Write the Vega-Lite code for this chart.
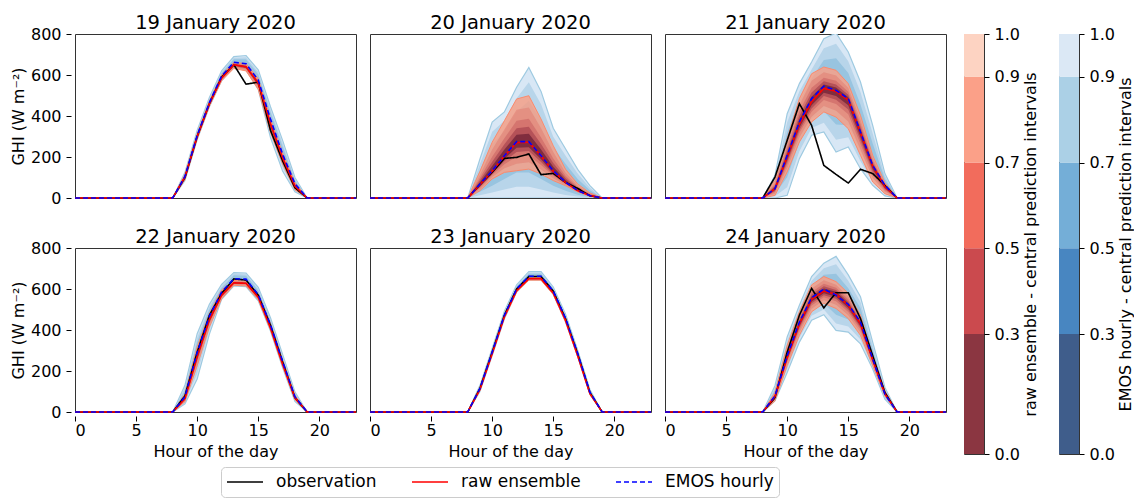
{
"$schema": "https://vega.github.io/schema/vega-lite/v6.json",
"background": "white",
"padding": {"left": 10, "top": 2, "right": 0, "bottom": 0},
"config": {
 "font": "DejaVu Sans",
 "view": {"stroke": "#333333", "strokeWidth": 1},
 "axis": {"labelFontSize": 16, "labelColor": "#000000", "titleFontSize": 16, "titleFontWeight": "normal", "titleColor": "#000000", "tickColor": "#000000", "tickSize": 5, "grid": false, "domain": false, "labelFont": "DejaVu Sans", "titleFont": "DejaVu Sans"},
 "axisX": {"labelPadding": 1, "titlePadding": 5},
 "axisY": {"labelPadding": 5},
 "header": {"labelFontSize": 19.5, "labelColor": "#000000", "labelFont": "DejaVu Sans", "labelPadding": 1}
},
"hconcat": [
{
 "data": {"values": [
{"date":"19 January 2020","h":0,"o":0,"r":0,"e":0},{"date":"19 January 2020","h":1,"o":0,"r":0,"e":0},{"date":"19 January 2020","h":2,"o":0,"r":0,"e":0},{"date":"19 January 2020","h":3,"o":0,"r":0,"e":0},{"date":"19 January 2020","h":4,"o":0,"r":0,"e":0},{"date":"19 January 2020","h":5,"o":0,"r":0,"e":0},{"date":"19 January 2020","h":6,"o":0,"r":0,"e":0},{"date":"19 January 2020","h":7,"o":0,"r":0,"e":0},
{"date":"19 January 2020","h":8,"o":0,"r":0,"e":0,"e1l":0,"e1h":0,"e2l":0,"e2h":0,"e3l":0,"e3h":0,"r1l":0,"r1h":0,"r2l":0,"r2h":0,"r3l":0,"r3h":0,"r4l":0,"r4h":0,"r5l":0,"r5h":0},
{"date":"19 January 2020","h":9,"o":100,"r":103,"e":105,"e1l":85,"e1h":125,"e2l":89,"e2h":121,"e3l":94,"e3h":116,"r1l":90,"r1h":115,"r2l":93,"r2h":112,"r3l":97,"r3h":109,"r4l":99,"r4h":107,"r5l":101,"r5h":105},
{"date":"19 January 2020","h":10,"o":300,"r":300,"e":305,"e1l":285,"e1h":330,"e2l":289,"e2h":325,"e3l":294,"e3h":319,"r1l":288,"r1h":312,"r2l":291,"r2h":309,"r3l":294,"r3h":306,"r4l":296,"r4h":304,"r5l":298,"r5h":302},
{"date":"19 January 2020","h":11,"o":460,"r":460,"e":465,"e1l":445,"e1h":490,"e2l":449,"e2h":485,"e3l":454,"e3h":479,"r1l":448,"r1h":472,"r2l":451,"r2h":469,"r3l":454,"r3h":466,"r4l":456,"r4h":464,"r5l":458,"r5h":462},
{"date":"19 January 2020","h":12,"o":590,"r":585,"e":595,"e1l":572,"e1h":620,"e2l":577,"e2h":615,"e3l":582,"e3h":609,"r1l":572,"r1h":600,"r2l":575,"r2h":596,"r3l":578,"r3h":592,"r4l":581,"r4h":590,"r5l":583,"r5h":588},
{"date":"19 January 2020","h":13,"o":650,"r":650,"e":662,"e1l":640,"e1h":690,"e2l":644,"e2h":684,"e3l":650,"e3h":677,"r1l":632,"r1h":662,"r2l":636,"r2h":659,"r3l":641,"r3h":656,"r4l":644,"r4h":654,"r5l":647,"r5h":652},
{"date":"19 January 2020","h":14,"o":555,"r":640,"e":655,"e1l":625,"e1h":695,"e2l":631,"e2h":687,"e3l":639,"e3h":677,"r1l":620,"r1h":655,"r2l":625,"r2h":651,"r3l":630,"r3h":647,"r4l":633,"r4h":645,"r5l":636,"r5h":643},
{"date":"19 January 2020","h":15,"o":565,"r":560,"e":575,"e1l":530,"e1h":625,"e2l":539,"e2h":615,"e3l":550,"e3h":603,"r1l":530,"r1h":582,"r2l":537,"r2h":576,"r3l":545,"r3h":571,"r4l":550,"r4h":567,"r5l":555,"r5h":564},
{"date":"19 January 2020","h":16,"o":330,"r":362,"e":385,"e1l":295,"e1h":445,"e2l":313,"e2h":433,"e3l":336,"e3h":418,"r1l":320,"r1h":385,"r2l":330,"r2h":379,"r3l":341,"r3h":373,"r4l":348,"r4h":370,"r5l":354,"r5h":366},
{"date":"19 January 2020","h":17,"o":180,"r":195,"e":212,"e1l":130,"e1h":280,"e2l":146,"e2h":266,"e3l":167,"e3h":249,"r1l":165,"r1h":218,"r2l":172,"r2h":212,"r3l":180,"r3h":206,"r4l":185,"r4h":203,"r5l":190,"r5h":199},
{"date":"19 January 2020","h":18,"o":50,"r":58,"e":70,"e1l":30,"e1h":100,"e2l":38,"e2h":94,"e3l":48,"e3h":87,"r1l":40,"r1h":75,"r2l":44,"r2h":71,"r3l":49,"r3h":66,"r4l":52,"r4h":64,"r5l":55,"r5h":61},
{"date":"19 January 2020","h":19,"o":0,"r":0,"e":0,"e1l":0,"e1h":0,"e2l":0,"e2h":0,"e3l":0,"e3h":0,"r1l":0,"r1h":0,"r2l":0,"r2h":0,"r3l":0,"r3h":0,"r4l":0,"r4h":0,"r5l":0,"r5h":0},
{"date":"19 January 2020","h":20,"o":0,"r":0,"e":0},{"date":"19 January 2020","h":21,"o":0,"r":0,"e":0},{"date":"19 January 2020","h":22,"o":0,"r":0,"e":0},{"date":"19 January 2020","h":23,"o":0,"r":0,"e":0},

{"date":"20 January 2020","h":0,"o":0,"r":0,"e":0},{"date":"20 January 2020","h":1,"o":0,"r":0,"e":0},{"date":"20 January 2020","h":2,"o":0,"r":0,"e":0},{"date":"20 January 2020","h":3,"o":0,"r":0,"e":0},{"date":"20 January 2020","h":4,"o":0,"r":0,"e":0},{"date":"20 January 2020","h":5,"o":0,"r":0,"e":0},{"date":"20 January 2020","h":6,"o":0,"r":0,"e":0},{"date":"20 January 2020","h":7,"o":0,"r":0,"e":0},
{"date":"20 January 2020","h":8,"o":0,"r":0,"e":0,"e1l":0,"e1h":0,"e2l":0,"e2h":0,"e3l":0,"e3h":0,"r1l":0,"r1h":0,"r2l":0,"r2h":0,"r3l":0,"r3h":0,"r4l":0,"r4h":0,"r5l":0,"r5h":0},
{"date":"20 January 2020","h":9,"o":65,"r":65,"e":68,"e1l":0,"e1h":190,"e2l":14,"e2h":166,"e3l":31,"e3h":135,"r1l":36,"r1h":130,"r2l":43,"r2h":114,"r3l":50,"r3h":98,"r4l":55,"r4h":86,"r5l":60,"r5h":77},
{"date":"20 January 2020","h":10,"o":125,"r":130,"e":133,"e1l":0,"e1h":370,"e2l":27,"e2h":323,"e3l":60,"e3h":263,"r1l":93,"r1h":272,"r2l":102,"r2h":237,"r3l":112,"r3h":201,"r4l":118,"r4h":177,"r5l":123,"r5h":156},
{"date":"20 January 2020","h":11,"o":193,"r":205,"e":206,"e1l":0,"e1h":420,"e2l":41,"e2h":377,"e3l":93,"e3h":324,"r1l":125,"r1h":377,"r2l":145,"r2h":334,"r3l":165,"r3h":291,"r4l":179,"r4h":262,"r5l":191,"r5h":236},
{"date":"20 January 2020","h":12,"o":198,"r":270,"e":275,"e1l":0,"e1h":540,"e2l":55,"e2h":487,"e3l":124,"e3h":421,"r1l":133,"r1h":483,"r2l":167,"r2h":430,"r3l":202,"r3h":377,"r4l":225,"r4h":340,"r5l":245,"r5h":308},
{"date":"20 January 2020","h":13,"o":215,"r":272,"e":275,"e1l":0,"e1h":637,"e2l":55,"e2h":565,"e3l":124,"e3h":474,"r1l":141,"r1h":499,"r2l":174,"r2h":442,"r3l":207,"r3h":386,"r4l":229,"r4h":347,"r5l":248,"r5h":313},
{"date":"20 January 2020","h":14,"o":114,"r":205,"e":206,"e1l":0,"e1h":520,"e2l":41,"e2h":457,"e3l":93,"e3h":379,"r1l":117,"r1h":385,"r2l":139,"r2h":340,"r3l":161,"r3h":295,"r4l":176,"r4h":264,"r5l":189,"r5h":237},
{"date":"20 January 2020","h":15,"o":120,"r":130,"e":133,"e1l":0,"e1h":340,"e2l":27,"e2h":299,"e3l":60,"e3h":247,"r1l":85,"r1h":255,"r2l":96,"r2h":224,"r3l":108,"r3h":193,"r4l":115,"r4h":171,"r5l":122,"r5h":153},
{"date":"20 January 2020","h":16,"o":76,"r":76,"e":77,"e1l":0,"e1h":240,"e2l":15,"e2h":207,"e3l":35,"e3h":167,"r1l":60,"r1h":141,"r2l":64,"r2h":125,"r3l":68,"r3h":109,"r4l":71,"r4h":97,"r5l":73,"r5h":88},
{"date":"20 January 2020","h":17,"o":47,"r":36,"e":36,"e1l":0,"e1h":140,"e2l":7,"e2h":119,"e3l":16,"e3h":93,"r1l":30,"r1h":68,"r2l":32,"r2h":60,"r3l":33,"r3h":52,"r4l":34,"r4h":47,"r5l":35,"r5h":42},
{"date":"20 January 2020","h":18,"o":11,"r":12,"e":12,"e1l":0,"e1h":60,"e2l":2,"e2h":50,"e3l":5,"e3h":38,"r1l":8,"r1h":25,"r2l":9,"r2h":22,"r3l":10,"r3h":19,"r4l":11,"r4h":16,"r5l":11,"r5h":14},
{"date":"20 January 2020","h":19,"o":0,"r":0,"e":0,"e1l":0,"e1h":0,"e2l":0,"e2h":0,"e3l":0,"e3h":0,"r1l":0,"r1h":0,"r2l":0,"r2h":0,"r3l":0,"r3h":0,"r4l":0,"r4h":0,"r5l":0,"r5h":0},
{"date":"20 January 2020","h":20,"o":0,"r":0,"e":0},{"date":"20 January 2020","h":21,"o":0,"r":0,"e":0},{"date":"20 January 2020","h":22,"o":0,"r":0,"e":0},{"date":"20 January 2020","h":23,"o":0,"r":0,"e":0},

{"date":"21 January 2020","h":0,"o":0,"r":0,"e":0},{"date":"21 January 2020","h":1,"o":0,"r":0,"e":0},{"date":"21 January 2020","h":2,"o":0,"r":0,"e":0},{"date":"21 January 2020","h":3,"o":0,"r":0,"e":0},{"date":"21 January 2020","h":4,"o":0,"r":0,"e":0},{"date":"21 January 2020","h":5,"o":0,"r":0,"e":0},{"date":"21 January 2020","h":6,"o":0,"r":0,"e":0},{"date":"21 January 2020","h":7,"o":0,"r":0,"e":0},
{"date":"21 January 2020","h":8,"o":0,"r":0,"e":0,"e1l":0,"e1h":0,"e2l":0,"e2h":0,"e3l":0,"e3h":0,"r1l":0,"r1h":0,"r2l":0,"r2h":0,"r3l":0,"r3h":0,"r4l":0,"r4h":0,"r5l":0,"r5h":0},
{"date":"21 January 2020","h":9,"o":102,"r":45,"e":45,"e1l":0,"e1h":110,"e2l":9,"e2h":97,"e3l":20,"e3h":81,"r1l":13,"r1h":86,"r2l":21,"r2h":76,"r3l":29,"r3h":66,"r4l":34,"r4h":59,"r5l":39,"r5h":52},
{"date":"21 January 2020","h":10,"o":281,"r":200,"e":208,"e1l":13,"e1h":411,"e2l":52,"e2h":370,"e3l":101,"e3h":320,"r1l":127,"r1h":289,"r2l":145,"r2h":267,"r3l":164,"r3h":245,"r4l":176,"r4h":229,"r5l":187,"r5h":216},
{"date":"21 January 2020","h":11,"o":460,"r":360,"e":371,"e1l":192,"e1h":558,"e2l":228,"e2h":521,"e3l":273,"e3h":474,"r1l":273,"r1h":485,"r2l":295,"r2h":454,"r3l":317,"r3h":423,"r4l":331,"r4h":401,"r5l":344,"r5h":383},
{"date":"21 January 2020","h":12,"o":354,"r":470,"e":485,"e1l":306,"e1h":663,"e2l":342,"e2h":627,"e3l":387,"e3h":583,"r1l":371,"r1h":606,"r2l":396,"r2h":572,"r3l":421,"r3h":538,"r4l":437,"r4h":515,"r5l":452,"r5h":494},
{"date":"21 January 2020","h":13,"o":159,"r":535,"e":546,"e1l":322,"e1h":777,"e2l":367,"e2h":731,"e3l":423,"e3h":673,"r1l":420,"r1h":639,"r2l":449,"r2h":613,"r3l":478,"r3h":587,"r4l":497,"r4h":569,"r5l":514,"r5h":554},
{"date":"21 January 2020","h":14,"o":115,"r":520,"e":525,"e1l":224,"e1h":805,"e2l":284,"e2h":753,"e3l":359,"e3h":682,"r1l":395,"r1h":623,"r2l":426,"r2h":597,"r3l":458,"r3h":572,"r4l":479,"r4h":554,"r5l":498,"r5h":539},
{"date":"21 January 2020","h":15,"o":73,"r":478,"e":485,"e1l":249,"e1h":712,"e2l":296,"e2h":667,"e3l":355,"e3h":610,"r1l":338,"r1h":558,"r2l":373,"r2h":538,"r3l":408,"r3h":518,"r4l":432,"r4h":504,"r5l":453,"r5h":492},
{"date":"21 January 2020","h":16,"o":140,"r":318,"e":322,"e1l":143,"e1h":566,"e2l":179,"e2h":517,"e3l":224,"e3h":456,"r1l":208,"r1h":403,"r2l":236,"r2h":382,"r3l":263,"r3h":361,"r4l":282,"r4h":346,"r5l":298,"r5h":333},
{"date":"21 January 2020","h":17,"o":119,"r":155,"e":159,"e1l":62,"e1h":354,"e2l":81,"e2h":315,"e3l":106,"e3h":266,"r1l":78,"r1h":208,"r2l":97,"r2h":195,"r3l":117,"r3h":182,"r4l":130,"r4h":172,"r5l":141,"r5h":165},
{"date":"21 January 2020","h":18,"o":62,"r":55,"e":62,"e1l":10,"e1h":119,"e2l":20,"e2h":108,"e3l":33,"e3h":93,"r1l":21,"r1h":75,"r2l":30,"r2h":70,"r3l":38,"r3h":65,"r4l":44,"r4h":62,"r5l":49,"r5h":59},
{"date":"21 January 2020","h":19,"o":0,"r":0,"e":0,"e1l":0,"e1h":0,"e2l":0,"e2h":0,"e3l":0,"e3h":0,"r1l":0,"r1h":0,"r2l":0,"r2h":0,"r3l":0,"r3h":0,"r4l":0,"r4h":0,"r5l":0,"r5h":0},
{"date":"21 January 2020","h":20,"o":0,"r":0,"e":0},{"date":"21 January 2020","h":21,"o":0,"r":0,"e":0},{"date":"21 January 2020","h":22,"o":0,"r":0,"e":0},{"date":"21 January 2020","h":23,"o":0,"r":0,"e":0},

{"date":"22 January 2020","h":0,"o":0,"r":0,"e":0},{"date":"22 January 2020","h":1,"o":0,"r":0,"e":0},{"date":"22 January 2020","h":2,"o":0,"r":0,"e":0},{"date":"22 January 2020","h":3,"o":0,"r":0,"e":0},{"date":"22 January 2020","h":4,"o":0,"r":0,"e":0},{"date":"22 January 2020","h":5,"o":0,"r":0,"e":0},{"date":"22 January 2020","h":6,"o":0,"r":0,"e":0},{"date":"22 January 2020","h":7,"o":0,"r":0,"e":0},
{"date":"22 January 2020","h":8,"o":0,"r":0,"e":0,"e1l":0,"e1h":0,"e2l":0,"e2h":0,"e3l":0,"e3h":0,"r1l":0,"r1h":0,"r2l":0,"r2h":0,"r3l":0,"r3h":0,"r4l":0,"r4h":0,"r5l":0,"r5h":0},
{"date":"22 January 2020","h":9,"o":79,"r":65,"e":75,"e1l":40,"e1h":130,"e2l":47,"e2h":119,"e3l":56,"e3h":105,"r1l":50,"r1h":88,"r2l":54,"r2h":82,"r3l":58,"r3h":77,"r4l":60,"r4h":73,"r5l":62,"r5h":69},
{"date":"22 January 2020","h":10,"o":292,"r":270,"e":290,"e1l":161,"e1h":382,"e2l":187,"e2h":364,"e3l":219,"e3h":341,"r1l":226,"r1h":318,"r2l":237,"r2h":306,"r3l":248,"r3h":294,"r4l":255,"r4h":286,"r5l":262,"r5h":279},
{"date":"22 January 2020","h":11,"o":472,"r":450,"e":468,"e1l":380,"e1h":525,"e2l":398,"e2h":514,"e3l":420,"e3h":499,"r1l":415,"r1h":480,"r2l":424,"r2h":473,"r3l":433,"r3h":465,"r4l":438,"r4h":460,"r5l":444,"r5h":455},
{"date":"22 January 2020","h":12,"o":579,"r":570,"e":585,"e1l":550,"e1h":622,"e2l":557,"e2h":615,"e3l":566,"e3h":605,"r1l":552,"r1h":595,"r2l":557,"r2h":589,"r3l":561,"r3h":583,"r4l":564,"r4h":578,"r5l":567,"r5h":575},
{"date":"22 January 2020","h":13,"o":649,"r":630,"e":650,"e1l":615,"e1h":680,"e2l":622,"e2h":674,"e3l":631,"e3h":667,"r1l":618,"r1h":642,"r2l":621,"r2h":639,"r3l":624,"r3h":636,"r4l":626,"r4h":634,"r5l":628,"r5h":632},
{"date":"22 January 2020","h":14,"o":644,"r":628,"e":648,"e1l":612,"e1h":678,"e2l":619,"e2h":672,"e3l":628,"e3h":665,"r1l":615,"r1h":638,"r2l":618,"r2h":636,"r3l":622,"r3h":633,"r4l":624,"r4h":631,"r5l":626,"r5h":630},
{"date":"22 January 2020","h":15,"o":570,"r":560,"e":572,"e1l":542,"e1h":608,"e2l":548,"e2h":601,"e3l":556,"e3h":592,"r1l":548,"r1h":575,"r2l":551,"r2h":571,"r3l":554,"r3h":568,"r4l":556,"r4h":565,"r5l":558,"r5h":563},
{"date":"22 January 2020","h":16,"o":423,"r":410,"e":425,"e1l":395,"e1h":460,"e2l":401,"e2h":453,"e3l":409,"e3h":444,"r1l":400,"r1h":432,"r2l":403,"r2h":427,"r3l":405,"r3h":421,"r4l":407,"r4h":417,"r5l":408,"r5h":414},
{"date":"22 January 2020","h":17,"o":243,"r":232,"e":245,"e1l":215,"e1h":280,"e2l":221,"e2h":273,"e3l":229,"e3h":264,"r1l":222,"r1h":252,"r2l":225,"r2h":247,"r3l":227,"r3h":242,"r4l":229,"r4h":239,"r5l":230,"r5h":236},
{"date":"22 January 2020","h":18,"o":70,"r":70,"e":75,"e1l":52,"e1h":98,"e2l":57,"e2h":93,"e3l":62,"e3h":88,"r1l":60,"r1h":82,"r2l":63,"r2h":79,"r3l":65,"r3h":76,"r4l":67,"r4h":74,"r5l":68,"r5h":72},
{"date":"22 January 2020","h":19,"o":0,"r":0,"e":0,"e1l":0,"e1h":0,"e2l":0,"e2h":0,"e3l":0,"e3h":0,"r1l":0,"r1h":0,"r2l":0,"r2h":0,"r3l":0,"r3h":0,"r4l":0,"r4h":0,"r5l":0,"r5h":0},
{"date":"22 January 2020","h":20,"o":0,"r":0,"e":0},{"date":"22 January 2020","h":21,"o":0,"r":0,"e":0},{"date":"22 January 2020","h":22,"o":0,"r":0,"e":0},{"date":"22 January 2020","h":23,"o":0,"r":0,"e":0},

{"date":"23 January 2020","h":0,"o":0,"r":0,"e":0},{"date":"23 January 2020","h":1,"o":0,"r":0,"e":0},{"date":"23 January 2020","h":2,"o":0,"r":0,"e":0},{"date":"23 January 2020","h":3,"o":0,"r":0,"e":0},{"date":"23 January 2020","h":4,"o":0,"r":0,"e":0},{"date":"23 January 2020","h":5,"o":0,"r":0,"e":0},{"date":"23 January 2020","h":6,"o":0,"r":0,"e":0},{"date":"23 January 2020","h":7,"o":0,"r":0,"e":0},
{"date":"23 January 2020","h":8,"o":0,"r":0,"e":0,"e1l":0,"e1h":0,"e2l":0,"e2h":0,"e3l":0,"e3h":0,"r1l":0,"r1h":0,"r2l":0,"r2h":0,"r3l":0,"r3h":0,"r4l":0,"r4h":0,"r5l":0,"r5h":0},
{"date":"23 January 2020","h":9,"o":115,"r":110,"e":115,"e1l":100,"e1h":130,"e2l":103,"e2h":127,"e3l":107,"e3h":123,"r1l":105,"r1h":120,"r2l":106,"r2h":118,"r3l":108,"r3h":115,"r4l":108,"r4h":113,"r5l":109,"r5h":112},
{"date":"23 January 2020","h":10,"o":292,"r":285,"e":292,"e1l":275,"e1h":310,"e2l":278,"e2h":306,"e3l":283,"e3h":302,"r1l":278,"r1h":295,"r2l":280,"r2h":293,"r3l":282,"r3h":290,"r4l":283,"r4h":288,"r5l":284,"r5h":287},
{"date":"23 January 2020","h":11,"o":472,"r":465,"e":472,"e1l":455,"e1h":492,"e2l":458,"e2h":488,"e3l":463,"e3h":483,"r1l":458,"r1h":475,"r2l":460,"r2h":473,"r3l":462,"r3h":470,"r4l":463,"r4h":468,"r5l":464,"r5h":467},
{"date":"23 January 2020","h":12,"o":600,"r":592,"e":600,"e1l":585,"e1h":620,"e2l":588,"e2h":616,"e3l":592,"e3h":611,"r1l":585,"r1h":602,"r2l":587,"r2h":600,"r3l":589,"r3h":597,"r4l":590,"r4h":595,"r5l":591,"r5h":594},
{"date":"23 January 2020","h":13,"o":661,"r":650,"e":662,"e1l":645,"e1h":685,"e2l":648,"e2h":680,"e3l":653,"e3h":675,"r1l":643,"r1h":657,"r2l":645,"r2h":655,"r3l":647,"r3h":654,"r4l":648,"r4h":652,"r5l":649,"r5h":651},
{"date":"23 January 2020","h":14,"o":661,"r":650,"e":662,"e1l":645,"e1h":685,"e2l":648,"e2h":680,"e3l":653,"e3h":675,"r1l":643,"r1h":657,"r2l":645,"r2h":655,"r3l":647,"r3h":654,"r4l":648,"r4h":652,"r5l":649,"r5h":651},
{"date":"23 January 2020","h":15,"o":590,"r":580,"e":590,"e1l":575,"e1h":610,"e2l":578,"e2h":606,"e3l":582,"e3h":601,"r1l":573,"r1h":588,"r2l":575,"r2h":586,"r3l":577,"r3h":584,"r4l":578,"r4h":583,"r5l":579,"r5h":581},
{"date":"23 January 2020","h":16,"o":456,"r":448,"e":458,"e1l":440,"e1h":478,"e2l":444,"e2h":474,"e3l":448,"e3h":469,"r1l":440,"r1h":455,"r2l":442,"r2h":453,"r3l":444,"r3h":452,"r4l":445,"r4h":450,"r5l":447,"r5h":449},
{"date":"23 January 2020","h":17,"o":284,"r":275,"e":285,"e1l":270,"e1h":302,"e2l":273,"e2h":299,"e3l":277,"e3h":294,"r1l":268,"r1h":282,"r2l":270,"r2h":280,"r3l":272,"r3h":279,"r4l":273,"r4h":277,"r5l":274,"r5h":276},
{"date":"23 January 2020","h":18,"o":95,"r":90,"e":97,"e1l":85,"e1h":110,"e2l":87,"e2h":107,"e3l":90,"e3h":104,"r1l":85,"r1h":96,"r2l":86,"r2h":95,"r3l":88,"r3h":93,"r4l":88,"r4h":92,"r5l":89,"r5h":91},
{"date":"23 January 2020","h":19,"o":0,"r":0,"e":0,"e1l":0,"e1h":0,"e2l":0,"e2h":0,"e3l":0,"e3h":0,"r1l":0,"r1h":0,"r2l":0,"r2h":0,"r3l":0,"r3h":0,"r4l":0,"r4h":0,"r5l":0,"r5h":0},
{"date":"23 January 2020","h":20,"o":0,"r":0,"e":0},{"date":"23 January 2020","h":21,"o":0,"r":0,"e":0},{"date":"23 January 2020","h":22,"o":0,"r":0,"e":0},{"date":"23 January 2020","h":23,"o":0,"r":0,"e":0},

{"date":"24 January 2020","h":0,"o":0,"r":0,"e":0},{"date":"24 January 2020","h":1,"o":0,"r":0,"e":0},{"date":"24 January 2020","h":2,"o":0,"r":0,"e":0},{"date":"24 January 2020","h":3,"o":0,"r":0,"e":0},{"date":"24 January 2020","h":4,"o":0,"r":0,"e":0},{"date":"24 January 2020","h":5,"o":0,"r":0,"e":0},{"date":"24 January 2020","h":6,"o":0,"r":0,"e":0},{"date":"24 January 2020","h":7,"o":0,"r":0,"e":0},
{"date":"24 January 2020","h":8,"o":0,"r":0,"e":0,"e1l":0,"e1h":0,"e2l":0,"e2h":0,"e3l":0,"e3h":0,"r1l":0,"r1h":0,"r2l":0,"r2h":0,"r3l":0,"r3h":0,"r4l":0,"r4h":0,"r5l":0,"r5h":0},
{"date":"24 January 2020","h":9,"o":70,"r":75,"e":79,"e1l":54,"e1h":128,"e2l":59,"e2h":118,"e3l":65,"e3h":106,"r1l":54,"r1h":95,"r2l":59,"r2h":90,"r3l":65,"r3h":85,"r4l":68,"r4h":82,"r5l":71,"r5h":79},
{"date":"24 January 2020","h":10,"o":292,"r":265,"e":275,"e1l":193,"e1h":366,"e2l":209,"e2h":348,"e3l":230,"e3h":325,"r1l":226,"r1h":325,"r2l":236,"r2h":310,"r3l":246,"r3h":295,"r4l":252,"r4h":285,"r5l":258,"r5h":276},
{"date":"24 January 2020","h":11,"o":472,"r":430,"e":439,"e1l":341,"e1h":521,"e2l":361,"e2h":505,"e3l":385,"e3h":484,"r1l":374,"r1h":489,"r2l":388,"r2h":474,"r3l":402,"r3h":460,"r4l":412,"r4h":449,"r5l":420,"r5h":441},
{"date":"24 January 2020","h":12,"o":603,"r":550,"e":557,"e1l":448,"e1h":661,"e2l":470,"e2h":640,"e3l":497,"e3h":614,"r1l":489,"r1h":620,"r2l":504,"r2h":603,"r3l":520,"r3h":585,"r4l":530,"r4h":573,"r5l":539,"r5h":563},
{"date":"24 January 2020","h":13,"o":508,"r":590,"e":600,"e1l":475,"e1h":726,"e2l":500,"e2h":701,"e3l":531,"e3h":669,"r1l":530,"r1h":661,"r2l":545,"r2h":643,"r3l":560,"r3h":626,"r4l":570,"r4h":613,"r5l":579,"r5h":603},
{"date":"24 January 2020","h":14,"o":582,"r":575,"e":570,"e1l":398,"e1h":759,"e2l":432,"e2h":721,"e3l":475,"e3h":674,"r1l":505,"r1h":636,"r2l":523,"r2h":621,"r3l":540,"r3h":606,"r4l":552,"r4h":595,"r5l":562,"r5h":586},
{"date":"24 January 2020","h":15,"o":582,"r":520,"e":525,"e1l":390,"e1h":669,"e2l":417,"e2h":640,"e3l":451,"e3h":604,"r1l":456,"r1h":579,"r2l":472,"r2h":564,"r3l":488,"r3h":550,"r4l":499,"r4h":539,"r5l":508,"r5h":531},
{"date":"24 January 2020","h":16,"o":456,"r":430,"e":439,"e1l":333,"e1h":562,"e2l":354,"e2h":537,"e3l":381,"e3h":507,"r1l":374,"r1h":472,"r2l":388,"r2h":462,"r3l":402,"r3h":451,"r4l":412,"r4h":444,"r5l":420,"r5h":438},
{"date":"24 January 2020","h":17,"o":275,"r":255,"e":259,"e1l":210,"e1h":341,"e2l":220,"e2h":325,"e3l":232,"e3h":304,"r1l":226,"r1h":275,"r2l":233,"r2h":270,"r3l":241,"r3h":265,"r4l":245,"r4h":262,"r5l":250,"r5h":259},
{"date":"24 January 2020","h":18,"o":95,"r":88,"e":87,"e1l":62,"e1h":120,"e2l":67,"e2h":113,"e3l":73,"e3h":105,"r1l":79,"r1h":103,"r2l":81,"r2h":99,"r3l":84,"r3h":96,"r4l":85,"r4h":93,"r5l":86,"r5h":91},
{"date":"24 January 2020","h":19,"o":0,"r":0,"e":0,"e1l":0,"e1h":0,"e2l":0,"e2h":0,"e3l":0,"e3h":0,"r1l":0,"r1h":0,"r2l":0,"r2h":0,"r3l":0,"r3h":0,"r4l":0,"r4h":0,"r5l":0,"r5h":0},
{"date":"24 January 2020","h":20,"o":0,"r":0,"e":0},{"date":"24 January 2020","h":21,"o":0,"r":0,"e":0},{"date":"24 January 2020","h":22,"o":0,"r":0,"e":0},{"date":"24 January 2020","h":23,"o":0,"r":0,"e":0}
 ]},
 "facet": {"field": "date", "type": "nominal", "header": {"title": null}},
 "columns": 3,
 "spacing": {"row": 24, "column": 6},
 "spec": {
  "width": 281,
  "height": 164,
  "encoding": {"x": {"field": "h", "type": "quantitative", "scale": {"domain": [0, 23], "nice": false}, "axis": {"values": [0, 5, 10, 15, 20], "title": "Hour of the day"}}},
  "layer": [
   {"mark": {"type": "area", "fill": "#d8e7f5", "stroke": "#9ecae1", "strokeWidth": 1.2, "clip": true},
    "encoding": {"y": {"field": "e1l", "type": "quantitative", "scale": {"domain": [0, 800], "nice": false}, "axis": {"values": [0, 200, 400, 600, 800]}, "title": "GHI (W m⁻²)"}, "y2": {"field": "e1h"}}},
   {"mark": {"type": "area", "fill": "#b8d5ea", "clip": true},
    "encoding": {"y": {"field": "e2l", "type": "quantitative", "scale": {"domain": [0, 800], "nice": false}, "title": "GHI (W m⁻²)"}, "y2": {"field": "e2h"}}},
   {"mark": {"type": "area", "fill": "#98c4e0", "clip": true},
    "encoding": {"y": {"field": "e3l", "type": "quantitative", "scale": {"domain": [0, 800], "nice": false}, "title": "GHI (W m⁻²)"}, "y2": {"field": "e3h"}}},
   {"mark": {"type": "area", "fill": "#fc9f83", "fillOpacity": 0.8, "stroke": "#fb8a6c", "strokeWidth": 1, "clip": true},
    "encoding": {"y": {"field": "r1l", "type": "quantitative", "scale": {"domain": [0, 800], "nice": false}, "title": "GHI (W m⁻²)"}, "y2": {"field": "r1h"}}},
   {"mark": {"type": "area", "fill": "#e07a6e", "fillOpacity": 0.5, "clip": true},
    "encoding": {"y": {"field": "r2l", "type": "quantitative", "scale": {"domain": [0, 800], "nice": false}, "title": "GHI (W m⁻²)"}, "y2": {"field": "r2h"}}},
   {"mark": {"type": "area", "fill": "#c65a5c", "fillOpacity": 0.5, "clip": true},
    "encoding": {"y": {"field": "r3l", "type": "quantitative", "scale": {"domain": [0, 800], "nice": false}, "title": "GHI (W m⁻²)"}, "y2": {"field": "r3h"}}},
   {"mark": {"type": "area", "fill": "#a03a4a", "fillOpacity": 0.6, "clip": true},
    "encoding": {"y": {"field": "r4l", "type": "quantitative", "scale": {"domain": [0, 800], "nice": false}, "title": "GHI (W m⁻²)"}, "y2": {"field": "r4h"}}},
   {"mark": {"type": "area", "fill": "#6a1e33", "fillOpacity": 0.7, "clip": true},
    "encoding": {"y": {"field": "r5l", "type": "quantitative", "scale": {"domain": [0, 800], "nice": false}, "title": "GHI (W m⁻²)"}, "y2": {"field": "r5h"}}},
   {"transform": [{"fold": ["o", "r", "e"], "as": ["k", "v"]}, {"filter": "datum.k == 'o'"}],
    "mark": {"type": "line", "strokeWidth": 1.6},
    "encoding": {"y": {"field": "v", "type": "quantitative", "scale": {"domain": [0, 800], "nice": false}, "title": "GHI (W m⁻²)"},
     "color": {"field": "k", "type": "nominal", "scale": {"domain": ["o", "r", "e"], "range": ["#000000", "#ff0000", "#0000ff"]}, "legend": {"title": null, "orient": "none", "legendX": 146, "legendY": 433, "direction": "horizontal", "labelExpr": "datum.label == 'o' ? 'observation' : datum.label == 'r' ? 'raw ensemble' : 'EMOS hourly'", "symbolType": "stroke", "symbolSize": 1296, "symbolStrokeWidth": 1.6, "clipHeight": 20, "labelFontSize": 17, "labelColor": "#000000", "strokeColor": "#cccccc", "fillColor": "#ffffff", "padding": 5, "cornerRadius": 4, "columnPadding": 34, "labelOffset": 12}},
     "strokeDash": {"field": "k", "type": "nominal", "scale": {"domain": ["o", "r", "e"], "range": [[1, 0], [1, 0], [5, 3]]}, "legend": {"title": null, "orient": "none", "legendX": 146, "legendY": 433, "direction": "horizontal", "labelExpr": "datum.label == 'o' ? 'observation' : datum.label == 'r' ? 'raw ensemble' : 'EMOS hourly'", "symbolType": "stroke", "symbolSize": 1296, "symbolStrokeWidth": 1.6, "clipHeight": 20, "labelFontSize": 17, "labelColor": "#000000", "strokeColor": "#cccccc", "fillColor": "#ffffff", "padding": 5, "cornerRadius": 4, "columnPadding": 34, "labelOffset": 12}}}},
   {"transform": [{"fold": ["o", "r", "e"], "as": ["k", "v"]}, {"filter": "datum.k == 'r'"}],
    "mark": {"type": "line", "strokeWidth": 1.6},
    "encoding": {"y": {"field": "v", "type": "quantitative", "scale": {"domain": [0, 800], "nice": false}, "title": "GHI (W m⁻²)"},
     "color": {"field": "k", "type": "nominal"},
     "strokeDash": {"field": "k", "type": "nominal"}}},
   {"transform": [{"fold": ["o", "r", "e"], "as": ["k", "v"]}, {"filter": "datum.k == 'e'"}],
    "mark": {"type": "line", "strokeWidth": 1.6},
    "encoding": {"y": {"field": "v", "type": "quantitative", "scale": {"domain": [0, 800], "nice": false}, "title": "GHI (W m⁻²)"},
     "color": {"field": "k", "type": "nominal"},
     "strokeDash": {"field": "k", "type": "nominal"}}}
  ]
 }
},
{
 "hconcat": [
 {
  "data": {"values": [{"lo": 0, "hi": 0.3, "b": "a"}, {"lo": 0.3, "hi": 0.5, "b": "b"}, {"lo": 0.5, "hi": 0.7, "b": "c"}, {"lo": 0.7, "hi": 0.9, "b": "d"}, {"lo": 0.9, "hi": 1.0, "b": "e"}]},
  "title": {"text": " ", "fontSize": 14, "offset": 9},
  "width": 20,
  "height": 420,
  "mark": {"type": "rect"},
  "encoding": {
   "y": {"field": "lo", "type": "quantitative", "scale": {"domain": [0, 0.3, 1], "range": [420, 300, 0]}, "axis": {"orient": "right", "values": [0, 0.3, 0.5, 0.7, 0.9, 1], "format": ".1f", "title": "raw ensemble - central prediction intervals", "titleAngle": 270, "titleBaseline": "top", "titlePadding": 3}},
   "y2": {"field": "hi"},
   "fill": {"field": "b", "type": "nominal", "scale": {"domain": ["a", "b", "c", "d", "e"], "range": ["#8b3641", "#cb4a4e", "#f26c5c", "#fba088", "#fdd3c2"]}, "legend": null}
  }
 },
 {
  "data": {"values": [{"lo": 0, "hi": 0.3, "b": "a"}, {"lo": 0.3, "hi": 0.5, "b": "b"}, {"lo": 0.5, "hi": 0.7, "b": "c"}, {"lo": 0.7, "hi": 0.9, "b": "d"}, {"lo": 0.9, "hi": 1.0, "b": "e"}]},
  "title": {"text": " ", "fontSize": 14, "offset": 9},
  "width": 20,
  "height": 420,
  "mark": {"type": "rect"},
  "encoding": {
   "y": {"field": "lo", "type": "quantitative", "scale": {"domain": [0, 0.3, 1], "range": [420, 300, 0]}, "axis": {"orient": "right", "values": [0, 0.3, 0.5, 0.7, 0.9, 1], "format": ".1f", "title": "EMOS hourly - central prediction intervals", "titleAngle": 270, "titleBaseline": "top", "titlePadding": 3}},
   "y2": {"field": "hi"},
   "fill": {"field": "b", "type": "nominal", "scale": {"domain": ["a", "b", "c", "d", "e"], "range": ["#3f5d8b", "#4886c1", "#74aed7", "#abd0e6", "#dbe8f5"]}, "legend": null}
  }
 }
 ],
 "spacing": 19,
 "resolve": {"scale": {"y": "independent", "fill": "independent"}}
}
],
"spacing": 13,
"resolve": {"scale": {"y": "independent", "fill": "independent", "color": "independent", "strokeDash": "independent"}}
}
